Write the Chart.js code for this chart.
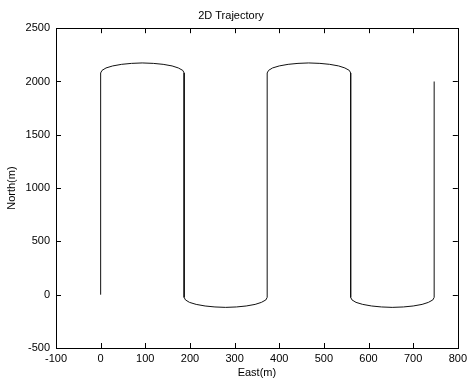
<!DOCTYPE html>
<html>
<head>
<meta charset="utf-8">
<script src="https://cdn.jsdelivr.net/npm/chart.js@4/dist/chart.umd.min.js"></script>
<style>
  html, body { margin: 0; padding: 0; background: #fff; }
  #wrap { width: 471px; height: 381px; position: relative; }
</style>
</head>
<body>
<div id="wrap"><canvas id="c" width="471" height="381"></canvas></div>
<script>
// Lawnmower survey track: four legs with rounded turns at each end
const eastPath = [
  0,
  0, 3, 12, 27, 47, 69, 93, 118, 140, 160, 174, 184, 187,
  187, 190, 199, 214, 234, 256, 280, 304, 326, 346, 360, 370, 373,
  373, 376, 385, 400, 420, 442, 466, 491, 513, 533, 547, 557, 560,
  560, 563, 572, 587, 607, 629, 653, 678, 700, 720, 734, 744, 747,
  747
];
const northPath = [
  0,
  2080, 2104, 2127, 2146, 2161, 2170, 2174, 2170, 2161, 2146, 2127, 2104, 2080,
  -25, -49, -72, -91, -106, -115, -119, -115, -106, -91, -72, -49, -25,
  2080, 2104, 2127, 2146, 2161, 2170, 2174, 2170, 2161, 2146, 2127, 2104, 2080,
  -25, -49, -72, -91, -106, -115, -119, -115, -106, -91, -72, -49, -25,
  2000
];
const eastTicks = [-100, 0, 100, 200, 300, 400, 500, 600, 700, 800];
const northTicks = [-500, 0, 500, 1000, 1500, 2000, 2500];

const FONT = { family: 'Arial, "Liberation Sans", Helvetica, sans-serif', size: 11, weight: 'normal' };

// Axes box with inward tick marks on all four sides
const frameTicks = {
  id: 'frameTicks',
  afterDraw(chart) {
    const { ctx, chartArea: a, scales } = chart;
    const len = 5;
    ctx.save();
    ctx.strokeStyle = '#000';
    ctx.lineWidth = 1;
    ctx.beginPath();
    eastTicks.forEach(v => {
      const x = Math.round(scales.x.getPixelForValue(v)) + 0.5;
      ctx.moveTo(x, a.bottom); ctx.lineTo(x, a.bottom - len);
      ctx.moveTo(x, a.top); ctx.lineTo(x, a.top + len);
    });
    northTicks.forEach(v => {
      const y = Math.round(scales.y.getPixelForValue(v)) + 0.5;
      ctx.moveTo(a.left, y); ctx.lineTo(a.left + len, y);
      ctx.moveTo(a.right, y); ctx.lineTo(a.right - len, y);
    });
    ctx.stroke();
    ctx.strokeRect(Math.round(a.left) + 0.5, Math.round(a.top) + 0.5,
                   Math.round(a.right - a.left), Math.round(a.bottom - a.top));
    ctx.restore();
  }
};

new Chart(document.getElementById('c'), {
  type: 'scatter',
  data: {
    datasets: [{
      data: eastPath.map((e, i) => ({ x: e, y: northPath[i] })),
      showLine: true,
      borderColor: '#111',
      borderWidth: 1,
      pointRadius: 0,
      pointHoverRadius: 0,
      tension: 0,
      fill: false
    }]
  },
  options: {
    responsive: false,
    animation: false,
    events: [],
    layout: { padding: { left: 0, right: 9, top: 0, bottom: 0 } },
    plugins: {
      legend: { display: false },
      tooltip: { enabled: false },
      title: {
        display: true,
        text: '2D Trajectory',
        color: '#000',
        font: FONT,
        padding: { top: 9, bottom: 6 }
      }
    },
    scales: {
      x: {
        type: 'linear',
        min: -100, max: 800,
        afterFit(s) { s.height = 33; },
        afterBuildTicks(s) { s.ticks = eastTicks.map(v => ({ value: v })); },
        grid: { display: false, drawTicks: false },
        border: { display: false },
        ticks: { color: '#000', font: FONT, padding: 4, maxRotation: 0, autoSkip: false,
                 callback: v => String(v) },
        title: { display: true, text: 'East(m)', color: '#000', font: FONT, padding: { top: 0, bottom: 1 } }
      },
      y: {
        type: 'linear',
        min: -500, max: 2500,
        afterFit(s) { s.width = 56; },
        afterBuildTicks(s) { s.ticks = northTicks.map(v => ({ value: v })); },
        grid: { display: false, drawTicks: false },
        border: { display: false },
        ticks: { color: '#000', font: FONT, padding: 6, autoSkip: false,
                 callback: v => String(v) },
        title: { display: true, text: 'North(m)', color: '#000', font: FONT, padding: { top: 5, bottom: 0 } }
      }
    }
  },
  plugins: [frameTicks]
});
</script>
</body>
</html>
